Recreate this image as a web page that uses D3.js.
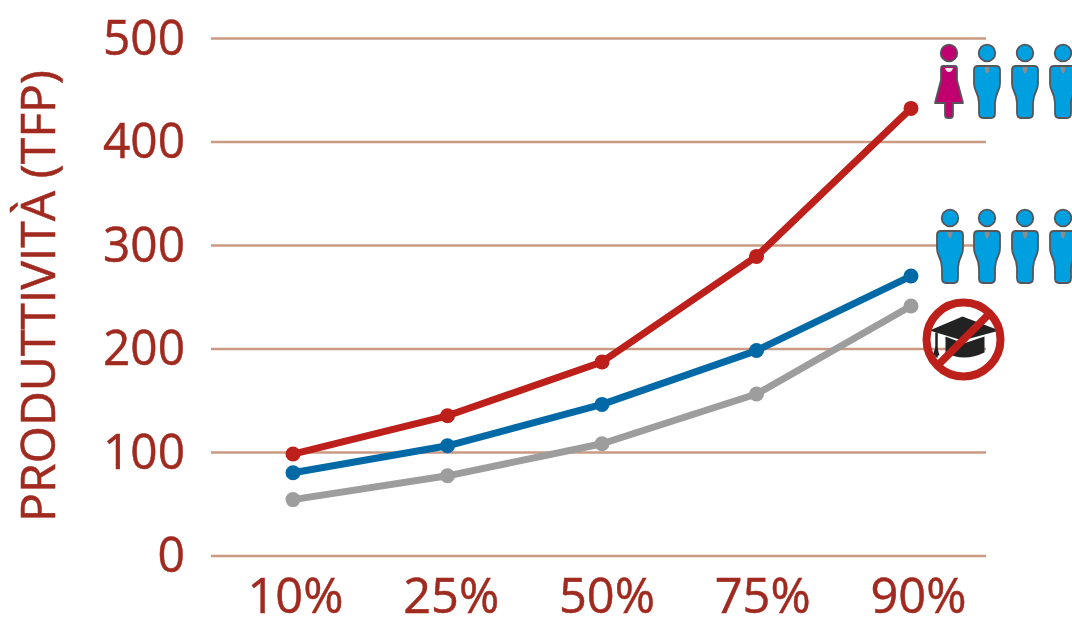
<!DOCTYPE html>
<html>
<head>
<meta charset="utf-8">
<script src="https://cdnjs.cloudflare.com/ajax/libs/d3/7.8.5/d3.min.js"></script>
<style>
html,body{margin:0;padding:0;background:#fff}
svg{display:block}
text{font-family:"Open Sans",sans-serif;fill:#a02a1f;stroke:#a02a1f;stroke-width:0.5px}
</style>
</head>
<body>
<svg id="chart" width="1072" height="617"></svg>
<script>
const percentiles = ["10%", "25%", "50%", "75%", "90%"];
const yTicks = [0, 100, 200, 300, 400, 500];
const womenMixed = [98, 135, 187, 289, 432];
const menOnly = [80, 106, 146, 198, 270];
const noDegree = [54, 77, 108, 156, 241];
const seriesList = [
  {values: noDegree, color: "#9d9d9d"},
  {values: menOnly, color: "#0069a6"},
  {values: womenMixed, color: "#bd1f1a"}
];
const yTitle = "PRODUTTIVITÀ (TFP)";

const svg = d3.select("#chart");
const x = d3.scalePoint().domain(percentiles).range([293, 911]);
const xLabels = d3.scalePoint().domain(percentiles).range([295, 918]);
const y = d3.scaleLinear().domain([0, 500]).range([555.5, 38]);

// Horizontal gridlines and value labels
const yAxis = svg.append("g").attr("transform", "translate(211,0)")
  .call(d3.axisLeft(y).tickValues(yTicks).tickSize(-775).tickPadding(26).tickFormat(d3.format("d")));
yAxis.select(".domain").remove();
yAxis.selectAll("line").attr("stroke", "#cb9a82").attr("stroke-width", 2.5);
yAxis.selectAll("text").style("font-size", "50px").attr("font-size", null).attr("font-family", null)
  .attr("dy", "0.32em").attr("textLength", 82).attr("lengthAdjust", "spacingAndGlyphs");
yAxis.selectAll("g.tick").filter(d => d === 0).select("text").attr("textLength", 27.5);

// Percentile labels
const xAxis = svg.append("g").attr("transform", "translate(0,613)")
  .call(d3.axisBottom(xLabels).tickSize(0).tickPadding(0));
xAxis.select(".domain").remove();
xAxis.selectAll("text").style("font-size", "50px").attr("font-size", null).attr("font-family", null)
  .attr("y", 0).attr("dy", 0).attr("textLength", 96).attr("lengthAdjust", "spacingAndGlyphs");

// Rotated axis title
svg.append("text")
  .attr("transform", "translate(54.5,296) rotate(-90)")
  .attr("text-anchor", "middle")
  .attr("textLength", 452).attr("lengthAdjust", "spacingAndGlyphs")
  .style("font-size", "48px")
  .text(yTitle);

// Series lines with round markers
const line = d3.line().x((d, i) => x(percentiles[i])).y(d => y(d));
const seriesG = svg.selectAll("g.series").data(seriesList).join("g").attr("class", "series");
seriesG.append("path")
  .attr("d", d => line(d.values))
  .attr("fill", "none")
  .attr("stroke", d => d.color)
  .attr("stroke-width", 7)
  .attr("stroke-linejoin", "round");
seriesG.selectAll("circle").data(d => d.values.map((v, i) => ({v, i, color: d.color}))).join("circle")
  .attr("cx", d => x(percentiles[d.i]))
  .attr("cy", d => y(d.v))
  .attr("r", 7.5)
  .attr("fill", d => d.color);

// People pictograms
const manBody = "M-9,13 H9 Q13,13 13,17 V30 Q13,34 11.5,37 Q8.5,43 8,50 V60 Q8,65 4,65 H-4 Q-8,65 -8,60 V50 Q-8.5,43 -11.5,37 Q-13,34 -13,30 V17 Q-13,13 -9,13 Z";
const womanBody = "M-6,13 H6 Q8,13 8,16 V27 L14,50 H4 V62 Q4,65 1,65 H-1 Q-4,65 -4,62 V50 H-14 L-8,27 V16 Q-8,13 -6,13 Z";
function person(cx, cy, female) {
  const g = svg.append("g").attr("transform", `translate(${cx},${cy})`);
  const fill = female ? "#c1006f" : "#009fe0";
  g.append("circle").attr("r", 8.3).attr("fill", fill).attr("stroke", "#54565a").attr("stroke-width", 1.8);
  g.append("path").attr("d", female ? womanBody : manBody).attr("fill", fill).attr("stroke", "#54565a").attr("stroke-width", 1.8).attr("stroke-linejoin", "round");
  if (female) {
    g.append("path").attr("d", "M-4,15 H4 Q3,19 0,19 Q-3,19 -4,15 Z").attr("fill", "#e8e8e8");
  } else {
    g.append("path").attr("d", "M-2.5,14 H2.5 L2,18 L0,21 L-2,18 Z").attr("fill", "#8a8d90");
  }
}
const rowTop = [[949, true], [987, false], [1025, false], [1063, false]];
const rowBottom = [[950, false], [987, false], [1025, false], [1063, false]];
rowTop.forEach(([cx, f]) => person(cx, 53, f));
rowBottom.forEach(([cx, f]) => person(cx, 218, f));

// Crossed-out graduation cap
const badge = svg.append("g").attr("transform", "translate(963.5,339.5)");
badge.append("path").attr("d", "M-1,-23 L-34,-9 L-1,1 L36,-9 Z").attr("fill", "#222");
badge.append("path").attr("d", "M-18,-3 L0,4 L21,-3 V13 Q0,23 -18,13 Z").attr("fill", "#222");
badge.append("path").attr("d", "M-27,-7 V18").attr("stroke", "#222").attr("stroke-width", 2.5).attr("fill", "none");
badge.append("path").attr("d", "M-27,5 L-24,16 H-31 Z").attr("fill", "#222");
badge.append("circle").attr("r", 37).attr("fill", "none").attr("stroke", "#bd1f1a").attr("stroke-width", 8);
badge.append("line").attr("x1", -27).attr("y1", 27).attr("x2", 27).attr("y2", -27).attr("stroke", "#bd1f1a").attr("stroke-width", 7.5);
</script>
</body>
</html>
